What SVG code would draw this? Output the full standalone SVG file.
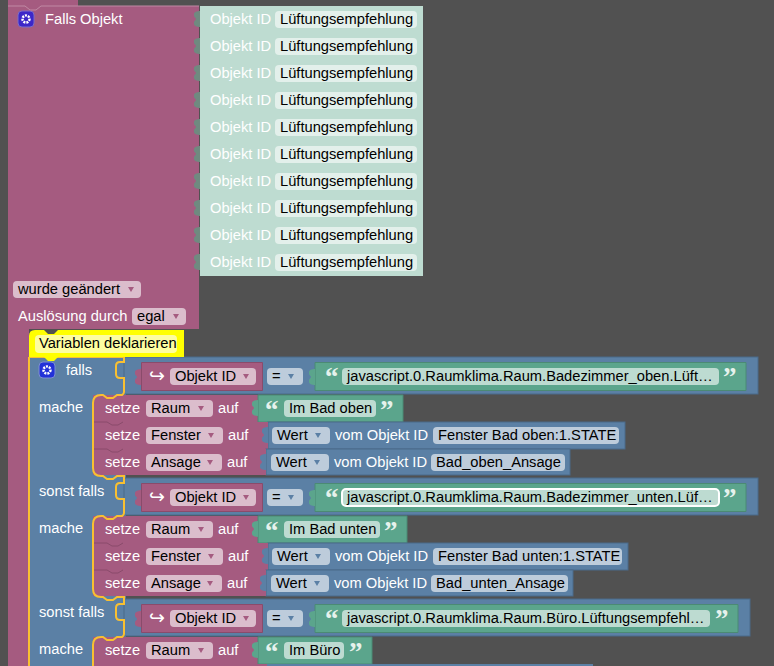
<svg xmlns="http://www.w3.org/2000/svg" width="774" height="666" viewBox="0 0 774 666">
<style>
text{font-family:"Liberation Sans",Arial,sans-serif;font-size:14.7px}
.w{fill:#fff}.k{fill:#000}
.q{font-family:"Liberation Serif",serif;font-weight:bold;font-size:27px;fill:#e6f2ec}
.h{font-family:"DejaVu Sans",sans-serif;font-size:19px;fill:#fff}
.p{fill:#a55b80;stroke:#8a4b6b;stroke-width:1}
.b{fill:#5b80a5;stroke:#4b6a8a;stroke-width:1}
.t{fill:#5ba58c;stroke:#4b8a74;stroke-width:1}
.l{fill:#bedcd1}
.pp{fill:#dbbdcc}.bp{fill:#bdccdb}.tp{fill:#bddbd1}.lp{fill:#e3f0eb}
.y{fill:none;stroke:#f9c031;stroke-width:2}
.a{fill:#a55b80}.ab{fill:#5b80a5}
.n{fill:none;stroke:#8a4b6b;stroke-width:1}
</style>
<defs>
<path id="pt" d="M0 0c-3 0-6 1-6 3v2c0 1 2 2 2 3s-2 2-2 3v2c0 2 3 3 6 3z"/>
<path id="ar" d="M0 0h6l-3 5z"/>
<path id="nt" d="M0 0H14L19 3H25L30 0"/>
</defs>
<rect width="774" height="666" fill="#515151"/>
<g id="falls-objekt">
<path class="a" d="M8 0H78V6H199V329H29V666H8V6z"/>
<path d="M8 6H25L30 10H36L41 6H199" fill="none" stroke="#c08aa4"/>
<rect x="18" y="11" width="16" height="16" rx="4" fill="#3c27c8" stroke="#7d6cc7"/>
<circle cx="26" cy="19" r="3.500" fill="none" stroke="#fff" stroke-width="2.500" stroke-dasharray="2 1"/>
<text class="w" x="45" y="24">Falls Objekt</text>
<rect x="13" y="281" width="128" height="17" rx="4" class="pp"/><text class="k" x="18" y="294">wurde geändert</text><use href="#ar" x="128" y="287" fill="#a55b80"/>
<text class="w" x="18" y="321">Auslösung durch</text>
<rect x="132" y="308" width="54" height="17" rx="4" class="pp"/><text class="k" x="137" y="321">egal</text><use href="#ar" x="173" y="314" fill="#a55b80"/>
</g>
<g id="objekt-ids">
<g id="id1"><rect class="l" x="200" y="6" width="223" height="27"/><use href="#pt" x="200" y="11" fill="#6f8a80"/><text class="w" x="210" y="24">Objekt ID</text><rect class="lp" x="275" y="11" width="142" height="17" rx="4"/><text class="k" x="280" y="24">Lüftungsempfehlung</text></g>
<g id="id2"><rect class="l" x="200" y="33" width="223" height="27"/><use href="#pt" x="200" y="38" fill="#6f8a80"/><text class="w" x="210" y="51">Objekt ID</text><rect class="lp" x="275" y="38" width="142" height="17" rx="4"/><text class="k" x="280" y="51">Lüftungsempfehlung</text></g>
<g id="id3"><rect class="l" x="200" y="60" width="223" height="27"/><use href="#pt" x="200" y="65" fill="#6f8a80"/><text class="w" x="210" y="78">Objekt ID</text><rect class="lp" x="275" y="65" width="142" height="17" rx="4"/><text class="k" x="280" y="78">Lüftungsempfehlung</text></g>
<g id="id4"><rect class="l" x="200" y="87" width="223" height="27"/><use href="#pt" x="200" y="92" fill="#6f8a80"/><text class="w" x="210" y="105">Objekt ID</text><rect class="lp" x="275" y="92" width="142" height="17" rx="4"/><text class="k" x="280" y="105">Lüftungsempfehlung</text></g>
<g id="id5"><rect class="l" x="200" y="114" width="223" height="27"/><use href="#pt" x="200" y="119" fill="#6f8a80"/><text class="w" x="210" y="132">Objekt ID</text><rect class="lp" x="275" y="119" width="142" height="17" rx="4"/><text class="k" x="280" y="132">Lüftungsempfehlung</text></g>
<g id="id6"><rect class="l" x="200" y="141" width="223" height="27"/><use href="#pt" x="200" y="146" fill="#6f8a80"/><text class="w" x="210" y="159">Objekt ID</text><rect class="lp" x="275" y="146" width="142" height="17" rx="4"/><text class="k" x="280" y="159">Lüftungsempfehlung</text></g>
<g id="id7"><rect class="l" x="200" y="168" width="223" height="27"/><use href="#pt" x="200" y="173" fill="#6f8a80"/><text class="w" x="210" y="186">Objekt ID</text><rect class="lp" x="275" y="173" width="142" height="17" rx="4"/><text class="k" x="280" y="186">Lüftungsempfehlung</text></g>
<g id="id8"><rect class="l" x="200" y="195" width="223" height="27"/><use href="#pt" x="200" y="200" fill="#6f8a80"/><text class="w" x="210" y="213">Objekt ID</text><rect class="lp" x="275" y="200" width="142" height="17" rx="4"/><text class="k" x="280" y="213">Lüftungsempfehlung</text></g>
<g id="id9"><rect class="l" x="200" y="222" width="223" height="27"/><use href="#pt" x="200" y="227" fill="#6f8a80"/><text class="w" x="210" y="240">Objekt ID</text><rect class="lp" x="275" y="227" width="142" height="17" rx="4"/><text class="k" x="280" y="240">Lüftungsempfehlung</text></g>
<g id="id10"><rect class="l" x="200" y="249" width="223" height="27"/><use href="#pt" x="200" y="254" fill="#6f8a80"/><text class="w" x="210" y="267">Objekt ID</text><rect class="lp" x="275" y="254" width="142" height="17" rx="4"/><text class="k" x="280" y="267">Lüftungsempfehlung</text></g>
</g>
<g id="spine"><rect class="ab" x="30" y="357" width="63" height="309"/><rect class="ab" x="93" y="357" width="33" height="309"/></g>
<g id="cond1"><rect class="b" x="124" y="357" width="634" height="37"/>
<path class="p" d="M141.500 362.500H262.500V390.500H141.500z"/><use href="#pt" x="141" y="369" fill="#a55b80"/><text class="h" x="149" y="382">↪</text>
<rect class="pp" x="170" y="368" width="86" height="17" rx="4"/><text class="k" x="175" y="381">Objekt ID</text><use href="#ar" x="243" y="374" fill="#a55b80"/>
<rect class="bp" x="267" y="368" width="36" height="17" rx="4"/><text class="k" x="272" y="381">=</text><use href="#ar" x="288" y="374" fill="#5b80a5"/>
<path class="t" d="M315 362.500H746V390.500H315z"/><use href="#pt" x="315" y="369" fill="#5ba58c"/>
<text class="q" x="325" y="386">“</text><rect class="tp" x="342" y="368" width="377" height="17" rx="4"/><text class="k" x="347" y="381">javascript.0.Raumklima.Raum.Badezimmer_oben.Lüft…</text><text class="q" x="723" y="386">”</text></g>
<g id="set1a"><rect class="a" x="93" y="395" width="166" height="27"/><path class="t" d="M258 395H403V422H258z"/><use href="#pt" x="258" y="400" fill="#5ba58c"/><text class="w" x="105" y="413">setze</text><rect class="pp" x="146" y="400" width="67" height="17" rx="4"/><text class="k" x="151" y="413">Raum</text><use href="#ar" x="198" y="406" fill="#a55b80"/><text class="w" x="218" y="413">auf</text><text class="q" x="265" y="419">“</text><rect class="tp" x="284" y="400" width="92" height="17" rx="4"/><text class="k" x="289" y="413">Im Bad oben</text><text class="q" x="380" y="419">”</text></g>
<g id="set1b"><rect class="b" x="268" y="422" width="357" height="27"/><rect class="a" x="93" y="422" width="175" height="27"/><use class="n" href="#nt" x="93" y="422"/><use href="#pt" x="268" y="427" fill="#5b80a5"/><text class="w" x="105" y="440">setze</text><rect class="pp" x="146" y="427" width="77" height="17" rx="4"/><text class="k" x="151" y="440">Fenster</text><use href="#ar" x="208" y="433" fill="#a55b80"/><text class="w" x="228" y="440">auf</text><rect class="bp" x="272" y="427" width="58" height="17" rx="4"/><text class="k" x="277" y="440">Wert</text><use href="#ar" x="315" y="433" fill="#5b80a5"/><text class="w" x="335" y="440">vom Objekt ID</text><rect class="bp" x="433" y="427" width="186" height="17" rx="4"/><text class="k" x="438" y="440">Fenster Bad oben:1.STATE</text></g>
<g id="set1c"><rect class="b" x="266" y="449" width="304" height="26"/><rect class="a" x="93" y="449" width="173" height="26"/><use class="n" href="#nt" x="93" y="449"/><use href="#pt" x="266" y="454" fill="#5b80a5"/><text class="w" x="105" y="467">setze</text><rect class="pp" x="146" y="454" width="76" height="17" rx="4"/><text class="k" x="151" y="467">Ansage</text><use href="#ar" x="207" y="460" fill="#a55b80"/><text class="w" x="227" y="467">auf</text><rect class="bp" x="271" y="454" width="58" height="17" rx="4"/><text class="k" x="276" y="467">Wert</text><use href="#ar" x="314" y="460" fill="#5b80a5"/><text class="w" x="334" y="467">vom Objekt ID</text><rect class="bp" x="431" y="454" width="134" height="17" rx="4"/><text class="k" x="436" y="467">Bad_oben_Ansage</text></g>
<g id="cond2"><rect class="b" x="124" y="478" width="634" height="37"/>
<path class="p" d="M141.500 483.500H262.500V511.500H141.500z"/><use href="#pt" x="141" y="490" fill="#a55b80"/><text class="h" x="149" y="503">↪</text>
<rect class="pp" x="170" y="489" width="86" height="17" rx="4"/><text class="k" x="175" y="502">Objekt ID</text><use href="#ar" x="243" y="495" fill="#a55b80"/>
<rect class="bp" x="267" y="489" width="36" height="17" rx="4"/><text class="k" x="272" y="502">=</text><use href="#ar" x="288" y="495" fill="#5b80a5"/>
<path class="t" d="M315 483.500H746V511.500H315z"/><use href="#pt" x="315" y="490" fill="#5ba58c"/>
<text class="q" x="325" y="507">“</text><rect fill="#bddbd1" stroke="#fff" stroke-width="2" x="342" y="489" width="377" height="17" rx="4"/><text class="k" x="347" y="502">javascript.0.Raumklima.Raum.Badezimmer_unten.Lüf…</text><text class="q" x="723" y="507">”</text></g>
<g id="set2a"><rect class="a" x="93" y="516" width="166" height="27"/><path class="t" d="M258 516H407V543H258z"/><use href="#pt" x="258" y="521" fill="#5ba58c"/><text class="w" x="105" y="534">setze</text><rect class="pp" x="146" y="521" width="67" height="17" rx="4"/><text class="k" x="151" y="534">Raum</text><use href="#ar" x="198" y="527" fill="#a55b80"/><text class="w" x="218" y="534">auf</text><text class="q" x="265" y="540">“</text><rect class="tp" x="284" y="521" width="96" height="17" rx="4"/><text class="k" x="289" y="534">Im Bad unten</text><text class="q" x="384" y="540">”</text></g>
<g id="set2b"><rect class="b" x="268" y="543" width="360" height="27"/><rect class="a" x="93" y="543" width="175" height="27"/><use class="n" href="#nt" x="93" y="543"/><use href="#pt" x="268" y="548" fill="#5b80a5"/><text class="w" x="105" y="561">setze</text><rect class="pp" x="146" y="548" width="77" height="17" rx="4"/><text class="k" x="151" y="561">Fenster</text><use href="#ar" x="208" y="554" fill="#a55b80"/><text class="w" x="228" y="561">auf</text><rect class="bp" x="272" y="548" width="58" height="17" rx="4"/><text class="k" x="277" y="561">Wert</text><use href="#ar" x="315" y="554" fill="#5b80a5"/><text class="w" x="335" y="561">vom Objekt ID</text><rect class="bp" x="433" y="548" width="189" height="17" rx="4"/><text class="k" x="438" y="561">Fenster Bad unten:1.STATE</text></g>
<g id="set2c"><rect class="b" x="266" y="570" width="307" height="26"/><rect class="a" x="93" y="570" width="173" height="26"/><use class="n" href="#nt" x="93" y="570"/><use href="#pt" x="266" y="575" fill="#5b80a5"/><text class="w" x="105" y="588">setze</text><rect class="pp" x="146" y="575" width="76" height="17" rx="4"/><text class="k" x="151" y="588">Ansage</text><use href="#ar" x="207" y="581" fill="#a55b80"/><text class="w" x="227" y="588">auf</text><rect class="bp" x="271" y="575" width="58" height="17" rx="4"/><text class="k" x="276" y="588">Wert</text><use href="#ar" x="314" y="581" fill="#5b80a5"/><text class="w" x="334" y="588">vom Objekt ID</text><rect class="bp" x="431" y="575" width="137" height="17" rx="4"/><text class="k" x="436" y="588">Bad_unten_Ansage</text></g>
<g id="cond3"><rect class="b" x="124" y="599" width="626" height="37"/>
<path class="p" d="M141.500 604.500H262.500V632.500H141.500z"/><use href="#pt" x="141" y="611" fill="#a55b80"/><text class="h" x="149" y="624">↪</text>
<rect class="pp" x="170" y="610" width="86" height="17" rx="4"/><text class="k" x="175" y="623">Objekt ID</text><use href="#ar" x="243" y="616" fill="#a55b80"/>
<rect class="bp" x="267" y="610" width="36" height="17" rx="4"/><text class="k" x="272" y="623">=</text><use href="#ar" x="288" y="616" fill="#5b80a5"/>
<path class="t" d="M315 604.500H738V632.500H315z"/><use href="#pt" x="315" y="611" fill="#5ba58c"/>
<text class="q" x="325" y="628">“</text><rect class="tp" x="342" y="610" width="368" height="17" rx="4"/><text class="k" x="347" y="623">javascript.0.Raumklima.Raum.Büro.Lüftungsempfehl…</text><text class="q" x="715" y="628">”</text></g>
<g id="set3a"><rect class="a" x="93" y="637" width="166" height="27"/><path class="t" d="M258 637H372V664H258z"/><use href="#pt" x="258" y="642" fill="#5ba58c"/><text class="w" x="105" y="655">setze</text><rect class="pp" x="146" y="642" width="67" height="17" rx="4"/><text class="k" x="151" y="655">Raum</text><use href="#ar" x="198" y="648" fill="#a55b80"/><text class="w" x="218" y="655">auf</text><text class="q" x="265" y="661">“</text><rect class="tp" x="284" y="642" width="60" height="17" rx="4"/><text class="k" x="289" y="655">Im Büro</text><text class="q" x="349" y="661">”</text><rect class="a" x="93" y="664" width="174" height="2"/><rect class="ab" x="267" y="664" width="326" height="2"/></g>
<g id="labels"><text class="w" x="66" y="375">falls</text><text class="w" x="39" y="412">mache</text><text class="w" x="39" y="496">sonst falls</text><text class="w" x="39" y="533">mache</text><text class="w" x="39" y="617">sonst falls</text><text class="w" x="39" y="654">mache</text>
<rect x="39" y="362" width="16" height="16" rx="4" fill="#2231d8" stroke="#7d8fd0"/><circle cx="47" cy="370" r="3.500" fill="none" stroke="#fff" stroke-width="2.500" stroke-dasharray="2 1"/></g>
<g id="connectors"><path class="y" d="M29 357H124V362H120Q116 362 116 366V374Q116 378 120 378H124V392Q124 394 122 395H117L113 398H107L103 395H101Q93 395 93 403V468Q93 476 101 476H103L107 479H113L117 476H124V483H120Q116 483 116 487V495Q116 499 120 499H124V513Q124 515 122 516H117L113 519H107L103 516H101Q93 516 93 524V589Q93 597 101 597H103L107 600H113L117 597H124V604H120Q116 604 116 608V616Q116 620 120 620H124V634Q124 636 122 637H117L113 640H107L103 637H101Q93 637 93 645V666"/><path class="y" d="M29 357V666"/></g>
<g id="comment"><path d="M29 336q0-6 6-6H44L48 334H54L58 330H184V357H58L54 361H48L44 357H29z" fill="#ff0"/><rect x="35" y="335" width="142" height="18" rx="4" fill="#fdfda0"/><text class="k" x="39" y="348">Variablen deklarieren</text></g>
</svg>
